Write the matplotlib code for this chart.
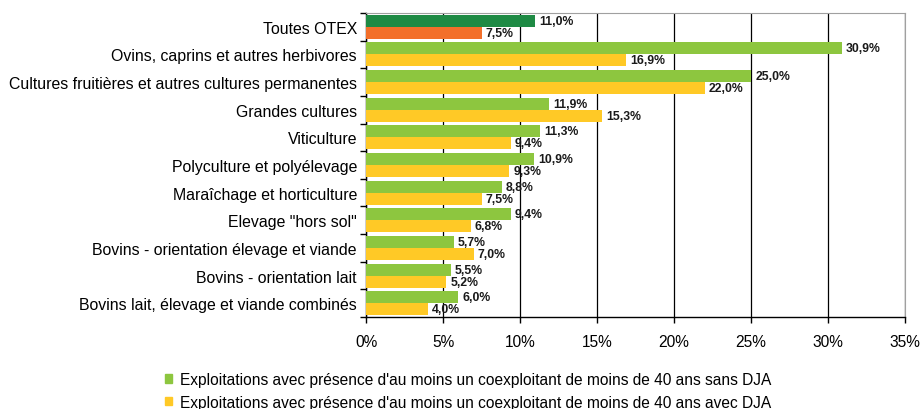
import numpy as np
import matplotlib.pyplot as plt
from matplotlib.patches import Patch

plt.rcParams['font.family'] = ['Liberation Sans', 'DejaVu Sans']

categories = [
    'Toutes OTEX',
    'Ovins, caprins et autres herbivores',
    'Cultures fruitières et autres cultures permanentes',
    'Grandes cultures',
    'Viticulture',
    'Polyculture et polyélevage',
    'Maraîchage et horticulture',
    'Elevage "hors sol"',
    'Bovins - orientation élevage et viande',
    'Bovins - orientation lait',
    'Bovins lait, élevage et viande combinés',
]
sans_dja = [11.0, 30.9, 25.0, 11.9, 11.3, 10.9, 8.8, 9.4, 5.7, 5.5, 6.0]
avec_dja = [7.5, 16.9, 22.0, 15.3, 9.4, 9.3, 7.5, 6.8, 7.0, 5.2, 4.0]
x_ticks = [0, 5, 10, 15, 20, 25, 30, 35]

green = '#8DC63F'
yellow = '#FFC926'
dark_green = '#1E8A44'
orange = '#F36F2A'

fig = plt.figure(figsize=(9.22, 4.10), dpi=100)
ax = fig.add_axes([366 / 922, 1 - 318 / 410, (905 - 366) / 922, (318 - 14) / 410])

n = len(categories)
y = np.arange(n)
h = 0.435
c1 = [dark_green] + [green] * (n - 1)
c2 = [orange] + [yellow] * (n - 1)

ax.barh(y - h / 2, sans_dja, height=h, color=c1, zorder=3)
ax.barh(y + h / 2, avec_dja, height=h, color=c2, zorder=3)

for i in range(n):
    for v, yy in ((sans_dja[i], y[i] - h / 2), (avec_dja[i], y[i] + h / 2)):
        ax.annotate(('%.1f%%' % v).replace('.', ','), (v, yy), xytext=(3, 0),
                    textcoords='offset points', va='center', ha='left',
                    fontsize=8.8, fontweight='bold', color='#1a1a1a', zorder=4)

ax.set_xlim(0, 35)
ax.set_ylim(n - 0.5, -0.5)
ax.set_xticks(x_ticks)
ax.set_xticklabels(['%d%%' % t for t in x_ticks], fontsize=11.2)
ax.xaxis.grid(True, color='black', linewidth=0.9, zorder=0)

ax.set_yticks(y)
ax.set_yticklabels(categories, fontsize=11.4)
ax.tick_params(axis='y', length=0, pad=6.5)
ax.set_yticks(np.arange(-0.5, n, 1), minor=True)
ax.tick_params(axis='y', which='minor', length=4, width=1, direction='out')
ax.tick_params(axis='x', length=4, width=1, direction='out', pad=8)

for s in ['top', 'right']:
    ax.spines[s].set_color('#A0A0A0')
for s in ['left', 'bottom']:
    ax.spines[s].set_color('black')
    ax.spines[s].set_linewidth(1)

handles = [
    Patch(color=green, label="Exploitations avec présence d'au moins un coexploitant de moins de 40 ans sans DJA"),
    Patch(color=yellow, label="Exploitations avec présence d'au moins un coexploitant de moins de 40 ans avec DJA"),
]
fig.legend(handles=handles, loc='upper left', bbox_to_anchor=(165 / 922, 1 - 373 / 410),
           frameon=False, fontsize=11.2, handlelength=0.45, handleheight=0.45,
           handletextpad=0.5, labelspacing=0.5, borderpad=0, borderaxespad=0)

fig.savefig('out.png', dpi=100)
